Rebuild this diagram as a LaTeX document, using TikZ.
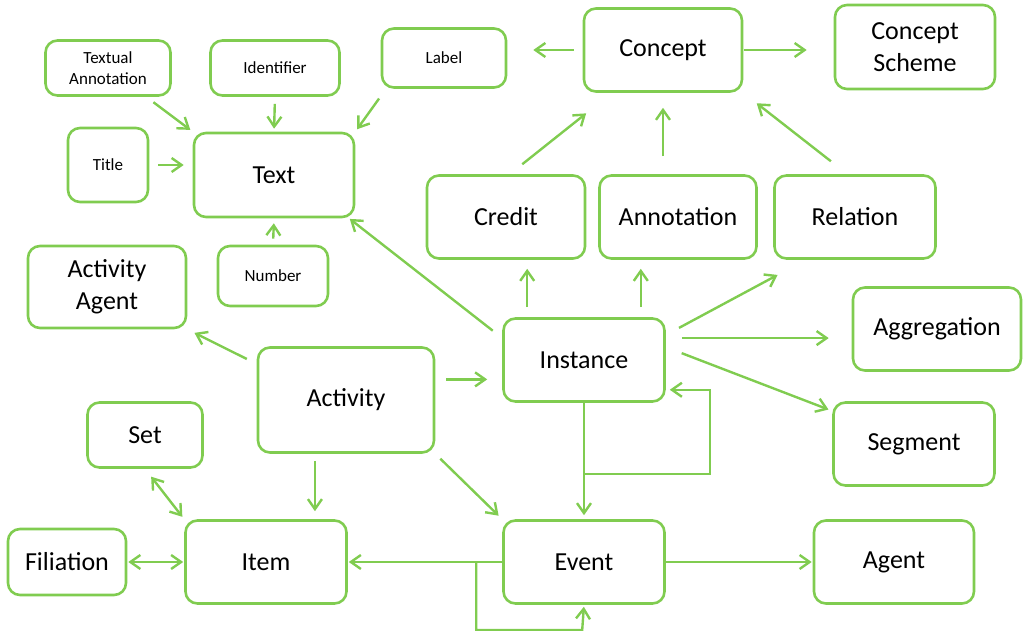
\documentclass[tikz,border=0pt]{standalone}
\usepackage{fontspec}
\setmainfont{Carlito}
\usetikzlibrary{arrows.meta}
\definecolor{boxgreen}{RGB}{128,204,80}

\begin{document}
\begin{tikzpicture}[x=1pt,y=-1pt,
    box/.style={draw=boxgreen, line width=2.6pt, rounded corners=12pt, inner sep=0pt,
        align=center, text=black, font=\fontsize{26}{32}\selectfont},
    smalltext/.style={font=\fontsize{17}{21}\selectfont},
    wide/.style={minimum width=160pt, minimum height=83pt},
    arr/.style={draw=boxgreen, line width=2.4pt, -{Straight Barb[length=10pt,width=14pt]}},
    biarr/.style={arr, {Straight Barb[length=10pt,width=14pt]}-{Straight Barb[length=10pt,width=14pt]}}]

    \useasboundingbox (0,0) rectangle (1023,631);

    %top row:
    \node[box, smalltext, minimum width=125pt, minimum height=55pt] (tann) at (108,68) {Textual\\Annotation};
    \node[box, smalltext, minimum width=129pt, minimum height=55pt] (ident) at (275,68) {Identifier};
    \node[box, smalltext, minimum width=124pt, minimum height=59pt] (lbl) at (444,58) {Label};
    \node[box, wide, minimum width=158pt] (concept) at (663,50) {Concept};
    \node[box, wide, minimum height=84pt] (scheme) at (915,47) {Concept\\Scheme};

    %text side:
    \node[box, smalltext, minimum width=80pt, minimum height=74pt] (title) at (108,165) {Title};
    \node[box, wide, minimum height=84pt] (text) at (274,175) {Text};
    \node[box, smalltext, minimum width=110pt, minimum height=60pt] (number) at (273,276) {Number};
    \node[box, wide, minimum width=158pt, minimum height=82pt] (actagent) at (107,287) {Activity\\Agent};

    %instance side:
    \node[box, wide, minimum width=158pt] (credit) at (506,217) {Credit};
    \node[box, wide, minimum width=157pt] (annot) at (678,217) {Annotation};
    \node[box, wide, minimum width=161pt] (relation) at (855,217) {Relation};
    \node[box, wide, minimum width=168pt] (aggreg) at (937,329) {Aggregation};
    \node[box, wide, minimum width=161pt] (instance) at (584,360) {Instance};
    \node[box, wide, minimum width=161pt] (segment) at (914,444) {Segment};

    %bottom part:
    \node[box, minimum width=176pt, minimum height=105pt] (activity) at (346,400) {Activity};
    \node[box, minimum width=115pt, minimum height=65pt] (set) at (145,435) {Set};
    \node[box, minimum width=118pt, minimum height=66pt] (filiation) at (67,562) {Filiation};
    \node[box, wide, minimum width=161pt] (item) at (266,562) {Item};
    \node[box, wide, minimum width=161pt] (event) at (584,562) {Event};
    \node[box, wide] (agent) at (894,562) {Agent};

    %arrows into Text:
    \draw[arr, shorten <=9pt, shorten >=9pt] (title.east) -- (title.east -| text.west);
    \draw[arr, shorten <=6pt, shorten >=5pt] (number.north) -- (text.south);
    \draw[arr, shorten <=9pt, shorten >=3pt] (tann.-37) -- (text.north west);
    \draw[arr, shorten <=7pt, shorten >=3pt] (ident.south) -- (text.north);
    \draw[arr, shorten <=12pt, shorten >=3pt] (lbl.-152) -- (text.north east);
    \draw[arr, shorten <=12pt, shorten >=1pt] (instance.165) -- (text.-30);

    %arrows round Concept:
    \draw[arr, shorten <=9pt, shorten >=26pt] (concept.west) -- (concept.west -| lbl.east);
    \draw[arr, shorten <=1pt, shorten >=27pt] (concept.east) -- (concept.east -| scheme.west);
    \draw[arr, shorten <=16pt, shorten >=33pt] (credit.85) -- (concept.-140);
    \draw[arr, shorten <=18pt, shorten >=15pt] (concept.south |- annot.north) -- (concept.south);
    \draw[arr, shorten <=21pt, shorten >=17pt] (relation.100) -- (concept.south east);

    %arrows out of Instance:
    \draw[arr, shorten <=10pt, shorten >=9pt] (instance.143) -- (instance.143 |- credit.south);
    \draw[arr, shorten <=10pt, shorten >=9pt] (instance.37) -- (instance.37 |- annot.south);
    \draw[arr, shorten <=15pt, shorten >=32pt] (instance.17) -- (relation.-139);
    \draw[arr, shorten <=16pt, shorten >=23pt] (instance.15) -- (instance.15 -| aggreg.west);
    \draw[arr, shorten <=17pt, shorten >=4pt] (instance.9) -- (segment.158);
    \draw[arr, shorten >=4pt] (instance.south) |- ++(126,71) |- (instance.-20.5);
    \draw[arr, shorten >=4pt] (instance.south) -- (event.north);

    %arrows out of Activity:
    \draw[arr, shorten <=11pt, shorten >=15pt] (activity.13) -- (activity.13 -| instance.west);
    \draw[arr, shorten <=11pt, shorten >=8pt] (activity.158) -- (actagent.south east);
    \draw[arr, shorten <=7pt, shorten >=8pt] (activity.-120) -- (activity.-120 |- item.north);
    \draw[arr, shorten <=7pt, shorten >=5pt] (activity.south east) -- (event.north west);

    %arrows round Item and Event:
    \draw[biarr, shorten <=10pt, shorten >=3pt] (set.south) -- (item.north west);
    \draw[biarr, shorten <=1pt, shorten >=1pt] (filiation) -- (item);
    \draw[arr, shorten >=1pt] (event.west) -- (item.east);
    \draw[arr, shorten >=2pt] (event.west) ++(-26,0) |- ++(106,68) -- (event.south);
    \draw[arr, shorten >=1pt] (event) -- (agent);

\end{tikzpicture}
\end{document}
